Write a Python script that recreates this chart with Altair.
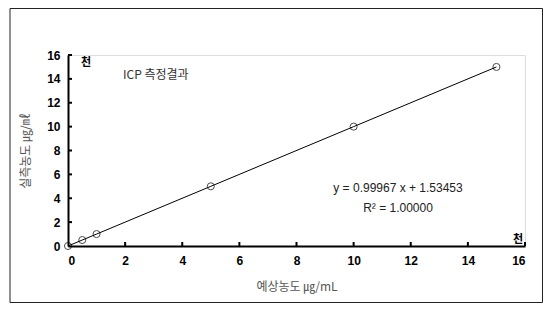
import altair as alt
import pandas as pd

# data
expected = [0, 0.5, 1, 5, 10, 15]
measured = [0, 0.5, 1, 5, 10, 15]
x_ticks = [2, 4, 6, 8, 10, 12, 14, 16]
y_ticks = [2, 4, 6, 8, 10, 12, 14, 16]
axis_values = [0, 2, 4, 6, 8, 10, 12, 14, 16]
equation = "y = 0.99967 x + 1.53453"
r2_text = "R² = 1.00000"
chart_title = "ICP 측정결과"
unit_label = "천"

W, H = 457, 191
df = pd.DataFrame({"x": expected, "y": measured})
xt = pd.DataFrame({"x": x_ticks})
yt = pd.DataFrame({"y": y_ticks})
one = pd.DataFrame({"a": [0]})

xs = alt.Scale(domain=[0, 16], nice=False, zero=True)
ys = alt.Scale(domain=[0, 16], nice=False, zero=True)

KFONT = "Noto Sans CJK KR"
LFONT = "Liberation Sans"

x_axis = alt.Axis(
    values=axis_values, ticks=False, grid=False, domainColor="black", domainWidth=2,
    labelFont=LFONT, labelFontWeight="bold", labelFontSize=12, labelColor="black",
    labelPadding=9, labelOverlap=False, title="예상농도 ㎍/mL", titleFont=KFONT,
    titleFontWeight="normal", titleFontSize=12, titleColor="#555", titlePadding=15)
y_axis = alt.Axis(
    values=axis_values, ticks=False, grid=False, domainColor="black", domainWidth=2,
    labelFont=LFONT, labelFontWeight="bold", labelFontSize=12, labelColor="black",
    labelPadding=8, labelOverlap=False, title="실측농도 ㎍/㎖", titleFont=KFONT,
    titleFontWeight="normal", titleFontSize=12, titleColor="#555", titlePadding=14)

X = lambda: alt.X("x:Q", scale=xs, axis=x_axis)
Y = lambda: alt.Y("y:Q", scale=ys, axis=y_axis)

border = alt.Chart(one).mark_rect(fill=None, stroke="#222", strokeWidth=1).encode(
    x=alt.value(-58), x2=alt.value(474.5), y=alt.value(-46.5), y2=alt.value(247.5)
)

line = alt.Chart(df).mark_line(color="black", strokeWidth=1).encode(x=X(), y=Y())

points = alt.Chart(df).mark_point(shape="circle", filled=False, color="black",
                                  size=50, strokeWidth=1).encode(x=X(), y=Y())

xtick = alt.Chart(xt).mark_rule(color="black", strokeWidth=2).encode(
    x=X(), y=alt.value(H), y2=alt.value(H - 4)
)
ytick = alt.Chart(yt).mark_rule(color="black", strokeWidth=2).encode(
    y=Y(), x=alt.value(0), x2=alt.value(4)
)

def label(text, dx, dy, font=KFONT, size=12, weight="normal", color="black", align="center"):
    return alt.Chart(one).mark_text(text=text, font=font, fontSize=size, fontWeight=weight,
                                    color=color, align=align, baseline="middle").encode(
        x=alt.value(dx), y=alt.value(dy))

texts = [
    label(unit_label, 18, 8, weight="bold", size=11),
    label(unit_label, 450, -6 + H, weight="bold", size=11),
    label(chart_title, 55, 20, size=12, color="#333", align="left"),
    label(equation, 330, 133, font=LFONT, size=12, color="#222"),
    label(r2_text, 330, 153, font=LFONT, size=12, color="#222"),
]

chart = alt.layer(border, line, points, xtick, ytick, *texts).properties(
    width=W, height=H,
    autosize=alt.AutoSizeParams(type="none"),
    padding={"left": 60, "top": 47, "right": 18, "bottom": 57},
).configure_view(stroke=None).configure(background="white")

chart.save("out.html", embed_options={"renderer": "svg", "actions": False})
